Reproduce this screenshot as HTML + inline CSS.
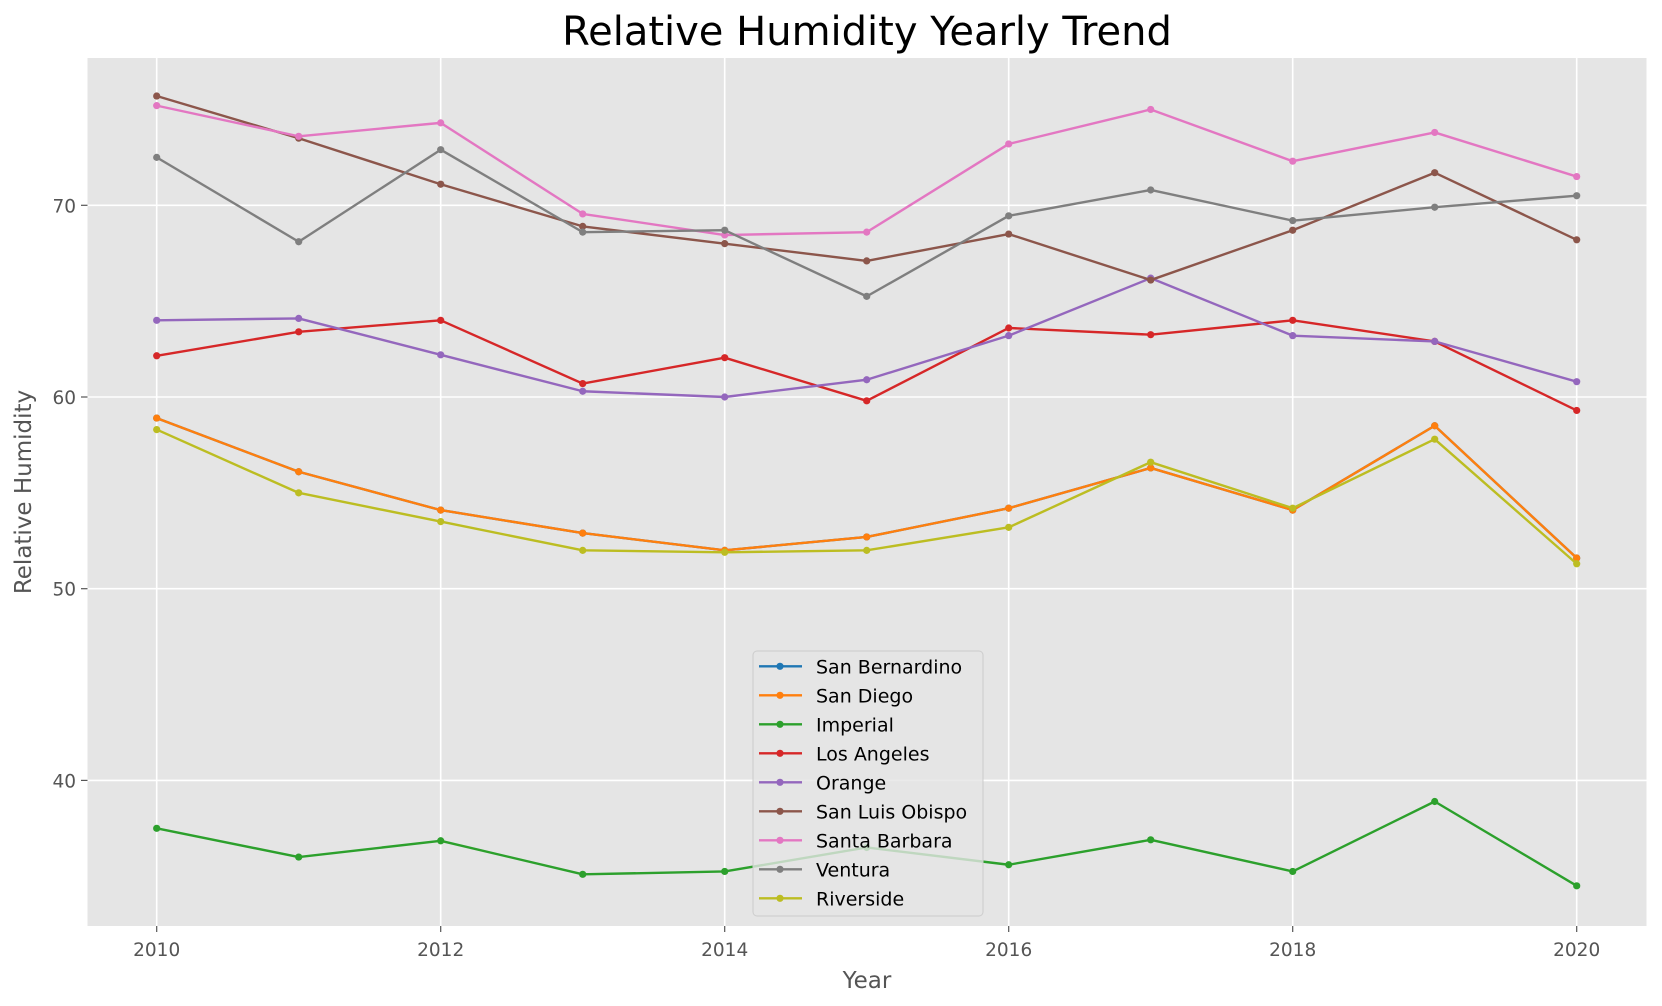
<!DOCTYPE html>
<html><head><meta charset="utf-8"><style>
body{margin:0;background:#fff;}
svg{display:block;font-family:"DejaVu Sans","Liberation Sans",sans-serif;}
</style></head><body>
<svg id="chart" width="1662" height="1006">
<rect x="87.5" y="58" width="1559" height="868" fill="#e5e5e5"/>
<g id="grid"></g><g id="axes"></g><g id="series"></g><g id="legend"></g>
<text x="867" y="45" font-size="40" text-anchor="middle" fill="#000">Relative Humidity Yearly Trend</text>
<text x="867" y="988" font-size="23" text-anchor="middle" fill="#555">Year</text>
<text x="31" y="492" font-size="23" text-anchor="middle" fill="#555" transform="rotate(-90 31 492)">Relative Humidity</text>
</svg>
<script>
const years=[2010,2011,2012,2013,2014,2015,2016,2017,2018,2019,2020];
const xTicks=[2010,2012,2014,2016,2018,2020];
const yTicks=[40,50,60,70];
const names=["San Bernardino","San Diego","Imperial","Los Angeles","Orange","San Luis Obispo","Santa Barbara","Ventura","Riverside"];
const colors=["#1f77b4","#ff7f0e","#2ca02c","#d62728","#9467bd","#8c564b","#e377c2","#7f7f7f","#bcbd22"];
const sanBernardino=[58.9,56.1,54.1,52.9,52.0,52.7,54.2,56.3,54.1,58.5,51.6];
const sanDiego=[58.9,56.1,54.1,52.9,52.0,52.7,54.2,56.3,54.1,58.5,51.6];
const imperial=[37.5,36.0,36.85,35.1,35.25,36.5,35.6,36.9,35.25,38.9,34.5];
const losAngeles=[62.15,63.4,64.0,60.7,62.05,59.8,63.6,63.25,64.0,62.9,59.3];
const orange=[64.0,64.1,62.2,60.3,60.0,60.9,63.2,66.2,63.2,62.9,60.8];
const sanLuisObispo=[75.7,73.5,71.1,68.9,68.0,67.1,68.5,66.1,68.7,71.7,68.2];
const santaBarbara=[75.2,73.6,74.3,69.55,68.45,68.6,73.2,75.0,72.3,73.8,71.5];
const ventura=[72.5,68.1,72.9,68.6,68.7,65.25,69.45,70.8,69.2,69.9,70.5];
const riverside=[58.3,55.0,53.5,52.0,51.9,52.0,53.2,56.6,54.2,57.8,51.3];
const allSeries=[sanBernardino,sanDiego,imperial,losAngeles,orange,sanLuisObispo,santaBarbara,ventura,riverside];
const NS="http://www.w3.org/2000/svg";
function xS(yr){return 156.7+(yr-2010)*142.0;}
function yS(v){return 205.3+(70-v)*19.17;}
function mk(tag,attrs,parent){const e=document.createElementNS(NS,tag);for(const k in attrs)e.setAttribute(k,attrs[k]);parent.appendChild(e);return e;}
const grid=document.getElementById('grid'),axes=document.getElementById('axes'),ser=document.getElementById('series'),leg=document.getElementById('legend');
xTicks.forEach(t=>{
 const g=mk('line',{x1:xS(t),x2:xS(t),y1:58,y2:926,stroke:'#fff','stroke-width':1.6},grid);
 
 
 mk('line',{x1:xS(t),x2:xS(t),y1:926,y2:932,stroke:'#555','stroke-width':1.2},axes);
 const l=mk('text',{x:xS(t),y:956,'font-size':18.5,'text-anchor':'middle',fill:'#555'},axes);
 l.textContent=t;
 
 
});
yTicks.forEach(t=>{
 const g=mk('line',{x1:87.5,x2:1646.5,y1:yS(t),y2:yS(t),stroke:'#fff','stroke-width':1.6},grid);
 
 
 mk('line',{x1:81,x2:87.5,y1:yS(t),y2:yS(t),stroke:'#555','stroke-width':1.2},axes);
 const l=mk('text',{x:76,y:yS(t)+7,'font-size':18.5,'text-anchor':'end',fill:'#555'},axes);
 l.textContent=t;
 
 
});
allSeries.forEach((vals,i)=>{
 const g=mk('g',{},ser);
 
 
 mk('polyline',{points:vals.map((v,j)=>xS(years[j])+','+yS(v)).join(' '),fill:'none',stroke:colors[i],'stroke-width':2.4,'stroke-linejoin':'round'},g);
 vals.forEach((v,j)=>{
  const c=mk('circle',{cx:xS(years[j]),cy:yS(v),r:3.6,fill:colors[i]},g);
  
  
 });
});
const box=mk('rect',{x:753,y:651,width:230,height:265,rx:4,fill:'#e5e5e5','fill-opacity':0.8,stroke:'#ccc','stroke-width':1},leg);


names.forEach((n,i)=>{
 const y=666.3+i*29;
 const g=mk('g',{},leg);
 
 
 mk('line',{x1:759,x2:802,y1:y,y2:y,stroke:colors[i],'stroke-width':2.4},g);
 mk('circle',{cx:780,cy:y,r:3.6,fill:colors[i]},g);
 const t=mk('text',{x:816,y:y+7,'font-size':19,fill:'#000'},g);
 t.textContent=n;
});
</script>
</body></html>
